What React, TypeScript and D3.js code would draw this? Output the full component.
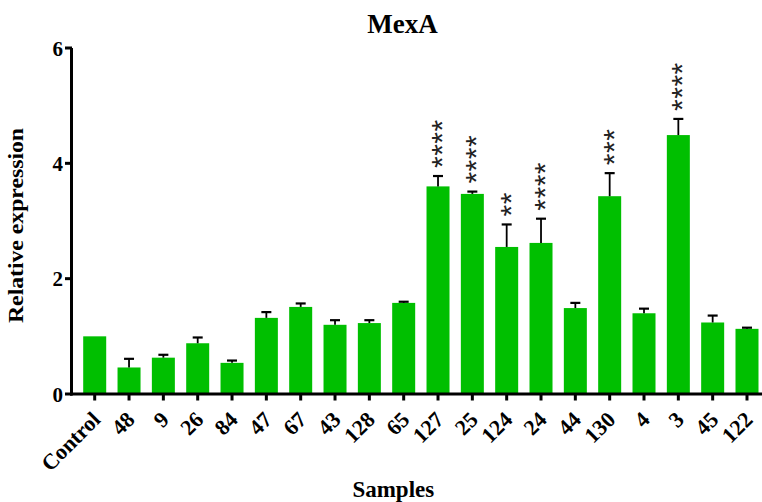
import React from "react";
import * as d3 from "d3";

const categories = ["Control","48","9","26","84","47","67","43","128","65","127","25","124","24","44","130","4","3","45","122"];
const means = [1.0,0.46,0.63,0.88,0.54,1.32,1.51,1.20,1.23,1.58,3.60,3.47,2.55,2.62,1.49,3.43,1.40,4.49,1.24,1.13];
const errors = [0,0.15,0.05,0.10,0.04,0.10,0.06,0.08,0.05,0.02,0.18,0.04,0.39,0.42,0.09,0.40,0.08,0.28,0.12,0.02];
const stars = ["","","","","","","","","","","****","****","**","****","","***","","****","",""];
const yTicks = [0,2,4,6];
const title = "MexA";
const xTitle = "Samples";
const yTitle = "Relative expression";

const W = 762, H = 502;
const FONT = "'Liberation Serif', 'Times New Roman', serif";

export default function App() {
  const x = d3.scaleBand<string>().domain(categories).range([83.2, 758.5]).paddingInner(0.33).paddingOuter(0);
  const y = d3.scaleLinear().domain([0, 6]).range([394, 48]);
  const bw = x.bandwidth();
  const data = categories.map((c, i) => ({ c, m: means[i], e: errors[i], s: stars[i] }));
  return (
    <svg width={W} height={H} style={{ position: "absolute", left: 0, top: 0, background: "#fff" }}>
      <rect width={W} height={H} fill="#fff" />
      {data.map((d) => {
        const x0 = x(d.c)!;
        const cx = x0 + bw / 2;
        const top = y(d.m + d.e);
        return (
          <g key={d.c}>
            <rect x={x0} y={y(d.m)} width={bw} height={y(0) - y(d.m)} fill="#00bf00" />
            {d.e > 0 && (
              <g stroke="#000">
                <line x1={cx} x2={cx} y1={y(d.m)} y2={top} strokeWidth={1.8} />
                <line x1={cx - 5} x2={cx + 5} y1={top} y2={top} strokeWidth={2.2} />
              </g>
            )}
            {d.s && (
              <text transform={`translate(${cx + 14},${top - 8}) rotate(-90)`} textAnchor="start"
                fontFamily="'Liberation Sans', Arial, sans-serif" fontSize={30} letterSpacing={0.5} fill="#222">{d.s}</text>
            )}
          </g>
        );
      })}
      {/* axes */}
      <line x1={71.5} x2={71.5} y1={y(6)} y2={y(0) + 1.5} stroke="#000" strokeWidth={3} />
      <line x1={70} x2={762} y1={y(0)} y2={y(0)} stroke="#000" strokeWidth={3} />
      {yTicks.map((t) => (
        <g key={t}>
          <line x1={65} x2={72} y1={y(t)} y2={y(t)} stroke="#000" strokeWidth={3} />
          <text x={63} y={y(t) + 7.5} textAnchor="end" fontFamily={FONT} fontWeight="bold" fontSize={21}>{t}</text>
        </g>
      ))}
      {categories.map((c) => {
        const cx = x(c)! + bw / 2;
        return (
          <g key={c}>
            <line x1={cx} x2={cx} y1={y(0)} y2={y(0) + 6.5} stroke="#000" strokeWidth={3} />
            <text transform={`translate(${cx + 7},${421}) rotate(-45)`} textAnchor="end"
              fontFamily={FONT} fontWeight="bold" fontSize={22}>{c}</text>
          </g>
        );
      })}
      <text x={402.5} y={33.3} textAnchor="middle" fontFamily={FONT} fontWeight="bold" fontSize={27}>{title}</text>
      <text x={393.3} y={496.7} textAnchor="middle" fontFamily={FONT} fontWeight="bold" fontSize={23}>{xTitle}</text>
      <text transform={`translate(23.3,225.5) rotate(-90)`} textAnchor="middle" fontFamily={FONT} fontWeight="bold" fontSize={21}
        textLength={195} lengthAdjust="spacingAndGlyphs">{yTitle}</text>
    </svg>
  );
}
